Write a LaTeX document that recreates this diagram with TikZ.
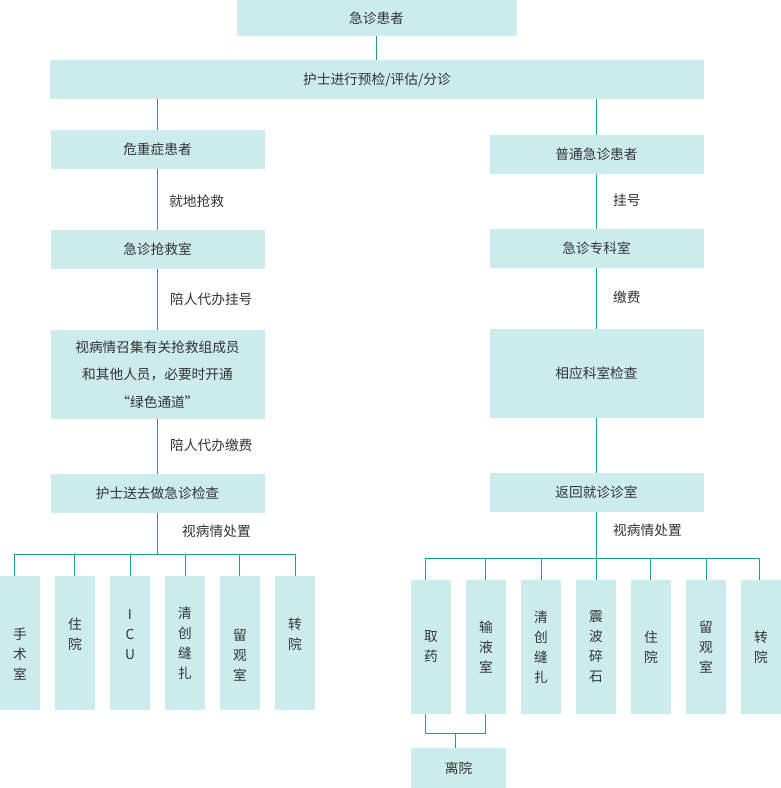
\documentclass[tikz,border=0pt]{standalone}
\usepackage{fontspec}
\setmainfont{Noto Sans CJK SC}
\usepackage{xcolor}
\usetikzlibrary{calc}
\definecolor{boxfill}{HTML}{CCEBEC}
\definecolor{linkcol}{HTML}{1A9C9E}
\definecolor{txtcol}{HTML}{333333}
\tikzset{
	box/.style={fill=boxfill, inner sep=0pt, text=txtcol, align=center, font=\fontsize{13.7}{27.5}\selectfont},
	wide/.style={box, minimum width=214, minimum height=39},
	cell/.style={box, minimum width=40, minimum height=134, font=\fontsize{13.7}{20}\selectfont},
	vlab/.style={inner sep=0pt, text=txtcol, align=center, font=\fontsize{13.7}{20}\selectfont},
	note/.style={anchor=west, inner sep=0pt, text=txtcol, font=\fontsize{13.7}{16}\selectfont},
	link/.style={draw=linkcol, line width=1pt},
}

\begin{document}
\begin{tikzpicture}[x=1pt, y=-1pt]
				\useasboundingbox (0,0) rectangle (781,788);
				% top
				\node[box, minimum width=280, minimum height=36] (pat) at (376.5,18) {急诊患者};
				\node[box, minimum width=654, minimum height=39] (tri) at (377,79.5) {护士进行预检/评估/分诊};
				% left column
				\node[wide] (c1) at (157.5,149.5) {危重症患者};
				\node[wide] (c2) at (157.5,249.5) {急诊抢救室};
				\node[wide, minimum height=89] (c3) at (157.5,374.5) {视病情召集有关抢救组成员\\和其他人员，必要时开通\\“绿色通道”};
				\node[wide] (c4) at (157.5,493.5) {护士送去做急诊检查};
				% right column
				\node[wide] (r1) at (596.5,154.5) {普通急诊患者};
				\node[wide] (r2) at (596.5,248.5) {急诊专科室};
				\node[wide, minimum height=89] (r3) at (596.5,373.5) {相应科室检查};
				\node[wide] (r4) at (596.5,492.5) {返回就诊诊室};
				% labels
				\node[note] (n1) at (169,201) {就地抢救};
				\node[note] (n2) at (170,299) {陪人代办挂号};
				\node[note] (n3) at (170,445) {陪人代办缴费};
				\node[note] (n4) at (182,531) {视病情处置};
				\node[note] (m1) at (613,200) {挂号};
				\node[note] (m2) at (613,297) {缴费};
				\node[note] (m3) at (613,530) {视病情处置};
				% left cells
				\foreach \n/\x/\t/\s in {s1/20/手\\术\\室/-11, s2/75/住\\院/9, s3/130/I\\C\\U/8, s4/185/清\\创\\缝\\扎/0, s5/240/留\\观\\室/-12, s6/295/转\\院/9}
					\node[cell, label={[vlab, yshift=\s pt]center:\t}] (\n) at (\x,643) {};
				% right cells
				\foreach \n/\x/\t in {q1/431/取\\药, q2/486/输\\液\\室, q3/541/清\\创\\缝\\扎, q4/596/震\\波\\碎\\石, q5/651/住\\院, q6/706/留\\观\\室, q7/761/转\\院}
					\node[cell] (\n) at (\x,647) {\t};
				\node[box, minimum width=95, minimum height=40] (out) at (458.5,768) {离院};
				% links
				\draw[link] (pat.south) -- (pat.south |- tri.north);
				\draw[link] (tri.south -| c1) -- (c1);
				\draw[link] (c1) -- (c2);
				\draw[link] (c2) -- (c3);
				\draw[link] (c3) -- (c4);
				\draw[link] (tri.south -| r1) -- (r1);
				\draw[link] (r1) -- (r2);
				\draw[link] (r2) -- (r3);
				\draw[link] (r3) -- (r4);
				\foreach \n/\dx in {s1/-5.5, s2/-0.5, s3/0.5, s4/0.5, s5/-0.5, s6/0.5}
					\draw[link] (c4.south) -- ++(0,41.5) -| ([xshift=\dx pt]\n.north);
				\foreach \n/\dx in {q1/-5.5, q2/-0.5, q3/0.5, q4/0.5, q5/-0.5, q6/0.5, q7/-1.5}
					\draw[link] (r4.south) -- ++(0,46.5) -| ([xshift=\dx pt]\n.north);
				\draw[link] ([xshift=-5.5pt]q1.south) -- ++(0,19.5) -| ([xshift=-0.5pt]q2.south);
				\draw[link] ([xshift=-3pt]out.north) -- ++(0,-14.5);
\end{tikzpicture}
\end{document}
